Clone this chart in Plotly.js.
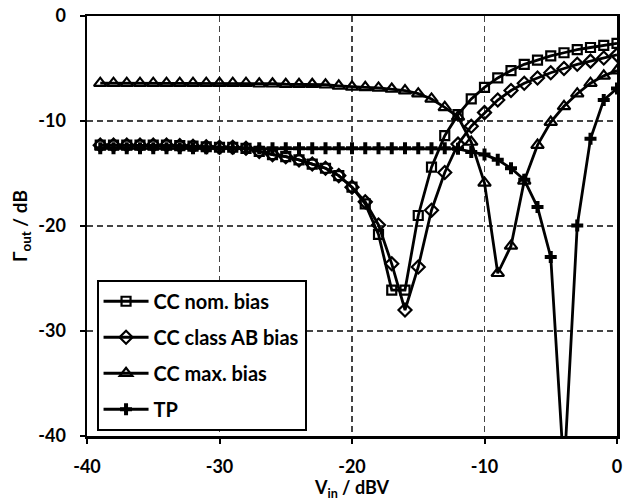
<!DOCTYPE html>
<html>
<head>
<meta charset="utf-8">
<script src="https://cdn.plot.ly/plotly-3.0.1.min.js"></script>
<style>html,body{margin:0;padding:0;background:#fff;}#chart{width:632px;height:501px;}</style>
</head>
<body>
<div id="chart"></div>
<script>
const vin = [-39,-38,-37,-36,-35,-34,-33,-32,-31,-30,-29,-28,-27,-26,-25,-24,-23,-22,-21,-20,
             -19,-18,-17,-16,-15,-14,-13,-12,-11,-10,-9,-8,-7,-6,-5,-4,-3,-2,-1,0];

const ccNom = [-12.3,-12.3,-12.3,-12.3,-12.3,-12.3,-12.35,-12.4,-12.45,-12.5,-12.5,-12.6,-12.9,-13.2,-13.4,-13.7,-14.1,-14.5,-15.2,-16.3,
               -17.9,-20.8,-26.1,-26.1,-19.0,-14.4,-11.4,-9.4,-7.9,-6.8,-5.9,-5.2,-4.6,-4.2,-3.8,-3.5,-3.2,-3.0,-2.8,-2.6];

const ccAB = [-12.3,-12.3,-12.3,-12.3,-12.3,-12.3,-12.35,-12.4,-12.45,-12.5,-12.5,-12.6,-12.9,-13.2,-13.4,-13.7,-14.1,-14.5,-15.2,-16.3,
              -17.7,-19.9,-23.6,-28.0,-23.9,-18.5,-14.9,-12.2,-10.5,-9.2,-8.0,-7.1,-6.4,-5.9,-5.4,-5.0,-4.6,-4.3,-4.0,-3.7];

const ccMax = [-6.4,-6.4,-6.4,-6.4,-6.4,-6.4,-6.4,-6.4,-6.4,-6.4,-6.4,-6.4,-6.45,-6.45,-6.5,-6.5,-6.5,-6.55,-6.65,-6.75,
               -6.8,-6.85,-6.95,-7.1,-7.4,-7.9,-8.7,-9.6,-12.0,-15.9,-24.5,-21.9,-15.7,-12.3,-10.1,-8.6,-7.4,-6.4,-5.7,-5.2];

const tp = [-12.6,-12.6,-12.6,-12.6,-12.6,-12.6,-12.6,-12.6,-12.6,-12.6,-12.6,-12.6,-12.6,-12.6,-12.6,-12.6,-12.6,-12.6,-12.6,-12.6,
            -12.6,-12.6,-12.6,-12.6,-12.6,-12.6,-12.6,-12.65,-12.95,-13.2,-13.7,-14.5,-15.6,-18.2,-22.95,-43.5,-19.95,-11.7,-8.0,-6.9];

const seriesNames = ['CC nom. bias', 'CC class AB bias', 'CC max. bias', 'TP'];
const xTicks = [-40, -30, -20, -10, 0];
const yTicks = [-40, -30, -20, -10, 0];

const FONT = 'Lato, "Open Sans", Arial, sans-serif';

function tr(y, name, symbol, size, group) {
  return {
    x: vin, y: y, name: name, type: 'scatter', mode: 'lines+markers',
    legendgroup: group,
    line: {color: '#000', width: 2.8},
    marker: {symbol: symbol, size: size, color: '#000', line: {color: '#000', width: 2.2}}
  };
}

const data = [
  tr(ccNom, seriesNames[0], 'square-open', 9, 'a'),
  tr(ccAB, seriesNames[1], 'diamond-open', 10, 'b'),
  tr(ccMax, seriesNames[2], 'triangle-up-open', 11, 'c'),
  tr(tp, seriesNames[3], 'cross', 10, 'd')
];
data[3].marker = {symbol: 'cross', size: 10, color: '#000', line: {color: '#000', width: 0}};

const tickFont = {family: FONT, size: 18, color: '#000', weight: 700};

const axisCommon = {
  showline: true, linecolor: '#000', linewidth: 2.5, mirror: true,
  ticks: 'outside', ticklen: 5, tickwidth: 2, tickcolor: '#000',
  showgrid: true, gridcolor: '#444', gridwidth: 1.5, griddash: '6px,4px',
  zeroline: false,
  tickfont: tickFont
};

const layout = {
  width: 632, height: 501,
  margin: {l: 87, r: 15, t: 16, b: 65},
  paper_bgcolor: '#fff', plot_bgcolor: '#fff',
  font: {family: FONT, color: '#000'},
  xaxis: Object.assign({}, axisCommon, {
    range: [-40, 0], tickvals: xTicks, ticktext: xTicks.map(v => '<b>' + v + '</b>'),
    ticklabelstandoff: 8,
    title: {text: '<b>V<sub>in</sub> / dBV</b>', font: {family: FONT, size: 18, color: '#000', weight: 700}, standoff: 4}
  }),
  yaxis: Object.assign({}, axisCommon, {
    range: [-40, 0], tickvals: yTicks, ticktext: yTicks.map(v => '<b>' + v + '</b>'),
    ticklabelstandoff: 10,
    title: {text: '<b>Γ<sub>out</sub> / dB</b>', font: {family: FONT, size: 19, color: '#000', weight: 700}, standoff: 6}
  }),
  showlegend: true,
  legend: {
    x: 0.018, y: 0.372, xanchor: 'left', yanchor: 'top',
    bgcolor: '#fff', bordercolor: '#000', borderwidth: 2,
    font: {family: FONT, size: 20, color: '#000', weight: 700},
    traceorder: 'grouped', tracegroupgap: 7, itemwidth: 45
  }
};

Plotly.newPlot('chart', data, layout, {displayModeBar: false, staticPlot: true});
</script>
</body>
</html>
